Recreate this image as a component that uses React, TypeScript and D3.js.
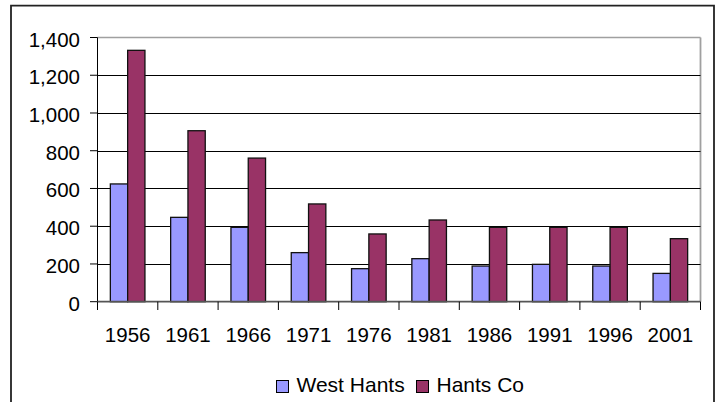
import React from "react";
import * as d3 from "d3";

const years = ["1956", "1961", "1966", "1971", "1976", "1981", "1986", "1991", "1996", "2001"];
const westHants = [624, 447, 394, 260, 175, 228, 189, 198, 189, 150];
const hantsCo = [1332, 906, 761, 518, 359, 433, 394, 394, 394, 334];
const seriesNames = ["West Hants", "Hants Co"];
const seriesColors = ["#9999FF", "#993366"];
const yTicks = [0, 200, 400, 600, 800, 1000, 1200, 1400];

const W = 719;
const H = 402;
const plotL = 97.5;
const plotR = 700.5;
const plotT = 37.5;
const plotB = 301.7;
const FONT = "Arial, 'Liberation Sans', sans-serif";

export default function App() {
  const x0 = d3.scaleBand<string>().domain(years).range([plotL, plotR]).padding(0);
  const bw = x0.bandwidth();
  const x1 = d3.scaleBand<string>().domain(seriesNames).range([0, bw]).paddingInner(0).paddingOuter(0.743);
  const y = d3.scaleLinear().domain([0, 1400]).range([plotB, plotT]);
  const fmt = d3.format(",");
  const data = [westHants, hantsCo];

  const legendItems = [
    { name: seriesNames[0], color: seriesColors[0], x: 276.5, tx: 296.5 },
    { name: seriesNames[1], color: seriesColors[1], x: 416.5, tx: 436.5 },
  ];

  return (
    <svg width={W} height={H} style={{ position: "absolute", left: 0, top: 0, background: "#fff" }} fontFamily={FONT}>
      <rect x={0} y={0} width={W} height={H} fill="#fff" />
      <path d={`M11,${H + 5} V5.7 H714 V${H + 5}`} fill="none" stroke="#222" strokeWidth={1.8} />
      <line x1={plotL} x2={plotR} y1={plotT} y2={plotT} stroke="#a0a0a0" strokeWidth={1.3} />
      <line x1={plotR} x2={plotR} y1={plotT} y2={plotB} stroke="#a0a0a0" strokeWidth={1.8} />
      {yTicks.filter((t) => t > 0 && t < 1400).map((t) => (
        <line key={t} x1={plotL} x2={plotR} y1={Math.round(y(t)) + 0.5} y2={Math.round(y(t)) + 0.5} stroke="#000" strokeWidth={1} />
      ))}
      {years.map((yr, i) => (
        <g key={yr}>
          {seriesNames.map((s, j) => {
            const bx = (x0(yr) as number) + (x1(s) as number);
            const by = y(data[j][i]);
            return (
              <rect key={s} x={bx} y={by} width={x1.bandwidth()} height={plotB - by}
                fill={seriesColors[j]} stroke="#111" strokeWidth={1.3} />
            );
          })}
        </g>
      ))}
      <line x1={plotL} x2={plotL} y1={plotT} y2={plotB} stroke="#000" strokeWidth={1} />
      {yTicks.map((t) => (
        <g key={t}>
          <line x1={90} x2={plotL} y1={y(t)} y2={y(t)} stroke="#000" strokeWidth={1} />
          <text x={80} y={y(t) + 9} textAnchor="end" fontSize={20.5} fill="#000">{fmt(t)}</text>
        </g>
      ))}
      <line x1={plotL} x2={plotR} y1={plotB} y2={plotB} stroke="#555" strokeWidth={1.8} />
      {years.map((yr) => (
        <line key={"t" + yr} x1={x0(yr) as number} x2={x0(yr) as number} y1={plotB} y2={310} stroke="#000" strokeWidth={1} />
      ))}
      <line x1={plotR} x2={plotR} y1={plotB} y2={310} stroke="#000" strokeWidth={1} />
      {years.map((yr) => (
        <text key={"l" + yr} x={(x0(yr) as number) + bw / 2} y={342.3} textAnchor="middle" fontSize={20.5} fill="#000">{yr}</text>
      ))}
      {legendItems.map((it) => (
        <g key={it.name}>
          <rect x={it.x} y={380.5} width={12} height={12} fill={it.color} stroke="#000" strokeWidth={1} />
          <text x={it.tx} y={392.3} fontSize={21} fill="#000">{it.name}</text>
        </g>
      ))}
    </svg>
  );
}
